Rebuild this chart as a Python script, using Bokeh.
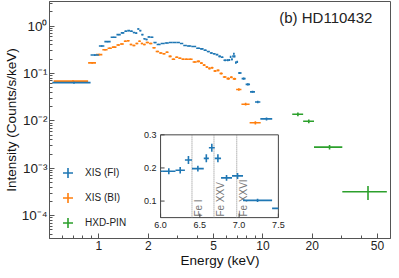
import math
import numpy as np
from bokeh.plotting import figure
from bokeh.models import FixedTicker, Range1d, LinearScale, Legend, LegendItem, Label
from bokeh.core.properties import value
from bokeh.embed import file_html
from bokeh.resources import INLINE

FONT = "Liberation Sans"
BLUE, ORANGE, GREEN = "#1f77b4", "#ff7f0e", "#2ca02c"
AX = "#555555"
LW = 1.6

# ---------------- data ----------------
# XIS (FI): contiguous bin edges (keV), intensity, 1-sigma error
fi_edges = [0.52, 0.89, 1.00, 1.08, 1.18, 1.28, 1.36, 1.43, 1.49, 1.55, 1.61, 1.665, 1.715,
            1.765, 1.815, 1.87, 1.925, 1.98, 2.06, 2.15, 2.25, 2.38, 2.52, 2.67, 2.82, 2.97,
            3.12, 3.27, 3.44, 3.66, 3.92, 4.14, 4.35, 4.55, 4.75, 4.95, 5.15, 5.35, 5.55, 5.75,
            6.02, 6.19, 6.31, 6.40, 6.55, 6.615, 6.69, 6.77, 6.91, 7.05, 7.42, 7.85, 8.35, 8.95,
            9.65, 11.4]
fi_rate = [0.064, 0.245, 0.38, 0.47, 0.58, 0.66, 0.72, 0.78, 0.80, 0.78,
           0.73, 0.71, 0.87, 0.80, 0.66, 0.54, 0.52, 0.59, 0.58, 0.45,
           0.41, 0.43, 0.44, 0.45, 0.45, 0.45, 0.43, 0.39, 0.38, 0.37,
           0.34, 0.33, 0.31, 0.29, 0.27, 0.26, 0.25, 0.23, 0.22, 0.19,
           0.19, 0.193, 0.224, 0.198, 0.229, 0.261, 0.229, 0.17, 0.176, 0.102,
           0.078, 0.059, 0.041, 0.025, 0.011]
fi_err = [0.003, 0.01, 0.014, 0.016, 0.018, 0.02, 0.022, 0.024, 0.024, 0.024,
          0.022, 0.022, 0.026, 0.024, 0.02, 0.018, 0.018, 0.018, 0.018, 0.014,
          0.012, 0.012, 0.012, 0.012, 0.012, 0.012, 0.012, 0.011, 0.01, 0.01,
          0.01, 0.01, 0.009, 0.009, 0.009, 0.009, 0.009, 0.009, 0.009, 0.008,
          0.009, 0.01, 0.012, 0.009, 0.012, 0.012, 0.012, 0.009, 0.009, 0.005,
          0.004, 0.003, 0.002, 0.0015, 0.0008]

# XIS (BI)
bi_edges = [0.53, 0.86, 0.96, 1.05, 1.13, 1.20, 1.28, 1.345, 1.42, 1.48, 1.54, 1.60, 1.67,
            1.74, 1.80, 1.86, 1.93, 2.02, 2.12, 2.22, 2.33, 2.44, 2.55, 2.66, 2.78, 2.92,
            3.05, 3.19, 3.33, 3.50, 3.73, 3.95, 4.14, 4.30, 4.47, 4.64, 4.81, 5.00, 5.22,
            5.44, 5.70, 6.00, 6.30, 6.55, 6.87, 7.40, 8.30, 9.70]
bi_rate = [0.069, 0.167, 0.25, 0.316, 0.34, 0.36, 0.40, 0.42, 0.48, 0.49,
           0.41, 0.39, 0.43, 0.48, 0.43, 0.41, 0.45, 0.43, 0.35, 0.29,
           0.27, 0.26, 0.28, 0.23, 0.20, 0.22, 0.21, 0.20, 0.20, 0.20,
           0.175, 0.18, 0.165, 0.15, 0.137, 0.128, 0.132, 0.113, 0.116, 0.10,
           0.084, 0.078, 0.083, 0.077, 0.046, 0.0225, 0.0091]
bi_err = [0.003, 0.007, 0.01, 0.012, 0.012, 0.013, 0.014, 0.014, 0.016, 0.016,
          0.014, 0.014, 0.015, 0.016, 0.015, 0.014, 0.015, 0.014, 0.012, 0.01,
          0.01, 0.01, 0.01, 0.009, 0.008, 0.009, 0.008, 0.008, 0.008, 0.008,
          0.007, 0.007, 0.007, 0.006, 0.006, 0.006, 0.006, 0.005, 0.005, 0.005,
          0.004, 0.004, 0.004, 0.004, 0.003, 0.0015, 0.0007]

# HXD-PIN
pin_lo = [15.1, 17.6, 20.5, 30.5]
pin_hi = [17.6, 20.5, 30.5, 57.0]
pin_rate = [0.0138, 0.0098, 0.0028, 0.00032]
pin_err = [0.0013, 0.0009, 0.0003, 0.000105]

series_labels = ["XIS (FI)", "XIS (BI)", "HXD-PIN"]

x_major = [1, 2, 5, 10, 20, 50]
x_major_labels = ["1", "2", "5", "10", "20", "50"]
x_minor = [0.6, 0.7, 0.8, 0.9, 3, 4, 6, 7, 8, 9, 30, 40]
y_major = [1e-4, 1e-3, 1e-2, 1e-1, 1.0]
y_major_labels = ["10\u207b\u2074", "10\u207b\u00b3", "10\u207b\u00b2", "10\u207b\u00b9", "10\u2070"]

# inset
inset_xlim = (6.0, 7.5)
inset_ylim = (0.05, 0.3)
inset_xticks = [6.0, 6.5, 7.0, 7.5]
inset_xtick_labels = ["6.0", "6.5", "7.0", "7.5"]
inset_yticks = [0.1, 0.2, 0.3]
inset_ytick_labels = ["0.1", "0.2", "0.3"]
fe_energy = [6.4, 6.68, 6.97]
fe_labels = ["Fe I", "Fe XXV", "Fe XXVI"]

# ---------------- figure ----------------
p = figure(width=391, height=270, x_axis_type="log", y_axis_type="log",
           x_range=(0.5, 60), y_range=(3.3e-5, 3.3),
           output_backend="svg", toolbar_location=None,
           min_border_left=44, min_border_right=1, min_border_top=1, min_border_bottom=31)
p.grid.visible = False
p.outline_line_color = AX
p.background_fill_color = "white"
p.border_fill_color = "white"

for ax in (p.xaxis[0], p.yaxis[0]):
    ax.axis_line_color = AX
    ax.major_tick_line_color = AX
    ax.minor_tick_line_color = AX
    ax.major_tick_in = 5
    ax.major_tick_out = 0
    ax.minor_tick_in = 3
    ax.minor_tick_out = 0
    ax.major_label_text_font = FONT
    ax.major_label_text_color = "#222222"
    ax.axis_label_text_font = FONT
    ax.axis_label_text_font_style = "normal"
    ax.axis_label_text_color = "#111111"

p.xaxis.ticker = FixedTicker(ticks=x_major, minor_ticks=x_minor)
p.xaxis.major_label_overrides = {float(t): s for t, s in zip(x_major, x_major_labels)}
p.xaxis.major_label_text_font_size = "12px"
p.xaxis.major_label_standoff = 2
p.xaxis.axis_label = "Energy (keV)"
p.xaxis.axis_label_text_font_size = "13.5px"
p.xaxis.axis_label_standoff = 0

y_minor = [k * 10.0 ** d for d in range(-5, 1) for k in range(2, 10)]
p.yaxis.ticker = FixedTicker(ticks=y_major, minor_ticks=y_minor)
p.yaxis.major_label_overrides = {float(t): s for t, s in zip(y_major, y_major_labels)}
p.yaxis.major_label_text_font_size = "13.5px"
p.yaxis.major_label_standoff = 2
p.yaxis.axis_label = "Intensity (Counts/s/keV)"
p.yaxis.axis_label_text_font_size = "13.5px"
p.yaxis.axis_label_standoff = 0


def draw_bins(lo, hi, y, err, color, **kw):
    lo = np.asarray(lo, float)
    hi = np.asarray(hi, float)
    y = np.asarray(y, float)
    err = np.asarray(err, float)
    c = (lo + hi) / 2
    p.segment(x0=lo, y0=y, x1=hi, y1=y, line_color=color, line_width=LW, **kw)
    p.segment(x0=c, y0=y - err, x1=c, y1=y + err, line_color=color, line_width=LW, **kw)


fe = np.asarray(fi_edges)
be = np.asarray(bi_edges)
draw_bins(be[:-1], be[1:], bi_rate, bi_err, ORANGE)
draw_bins(fe[:-1], fe[1:], fi_rate, fi_err, BLUE)
draw_bins(pin_lo, pin_hi, pin_rate, pin_err, GREEN)

# zero-size markers used only for the legend glyphs (crosses)
leg_r = []
for (lo, hi, y), col in zip([(fe[:-1], fe[1:], fi_rate), (be[:-1], be[1:], bi_rate),
                             (np.asarray(pin_lo), np.asarray(pin_hi), pin_rate)],
                            [BLUE, ORANGE, GREEN]):
    leg_r.append(p.scatter(x=(lo + hi) / 2, y=y, marker="cross", size=0,
                           line_color=col, line_width=LW))

legend = Legend(items=[LegendItem(label=l, renderers=[r]) for l, r in zip(series_labels, leg_r)],
                location=(6, 3), orientation="vertical",
                glyph_width=25, glyph_height=25, label_height=13, spacing=-12,
                padding=0, margin=0, label_standoff=5,
                border_line_color=None, background_fill_alpha=0,
                label_text_font=FONT, label_text_font_size="10px", label_text_color="#222222")
p.add_layout(legend)

p.add_layout(Label(x=46.5, y=1.55, text="(b) HD110432", text_align="right",
                   text_baseline="middle", text_font=FONT, text_font_size="15px",
                   text_color="#222222"))

# ---------------- inset (own linear ranges inside the same frame) ----------------
fx0, fx1, fy0, fy1 = 0.3257, 0.6712, 0.0881, 0.4374   # inset box as fractions of the frame
sx = (inset_xlim[1] - inset_xlim[0]) / (fx1 - fx0)
sy = (inset_ylim[1] - inset_ylim[0]) / (fy1 - fy0)
x_start = inset_xlim[0] - fx0 * sx
y_start = inset_ylim[0] - fy0 * sy
p.extra_x_ranges = {"ix": Range1d(x_start, x_start + sx)}
p.extra_y_ranges = {"iy": Range1d(y_start, y_start + sy)}
p.extra_x_scales = {"ix": LinearScale()}
p.extra_y_scales = {"iy": LinearScale()}
IN = dict(x_range_name="ix", y_range_name="iy")

p.quad(left=[inset_xlim[0]], right=[inset_xlim[1]], bottom=[inset_ylim[0]], top=[inset_ylim[1]],
       fill_color="white", line_color="#444444", line_width=1, **IN)

p.segment(x0=fe_energy, x1=fe_energy, y0=inset_ylim[0], y1=inset_ylim[1],
          line_color="#888888", line_width=1, line_dash="1 1", **IN)
p.text(x=fe_energy, y=inset_ylim[0], text=fe_labels, angle=math.pi / 2,
       text_align="left", text_baseline="top", x_offset=1, y_offset=-1,
       text_font=value(FONT), text_font_size=value("10px"), text_color="#777777", **IN)

lo, hi = fe[:-1], fe[1:]
sel = (hi > inset_xlim[0]) & (lo < inset_xlim[1])
ilo = np.clip(lo[sel], *inset_xlim)
ihi = np.clip(hi[sel], *inset_xlim)
iy = np.asarray(fi_rate)[sel]
ierr = np.asarray(fi_err)[sel]
ic = ((lo + hi) / 2)[sel]
p.segment(x0=ilo, y0=iy, x1=ihi, y1=iy, line_color=BLUE, line_width=LW, **IN)
vin = (ic >= inset_xlim[0]) & (ic <= inset_xlim[1])
p.segment(x0=ic[vin], y0=(iy - ierr)[vin], x1=ic[vin], y1=(iy + ierr)[vin],
          line_color=BLUE, line_width=LW, **IN)

p.ray(x=inset_xticks, y=inset_ylim[0], length=4, length_units="screen", angle=math.pi / 2,
      line_color="#444444", line_width=1, **IN)
p.ray(x=inset_xlim[0], y=inset_yticks, length=4, length_units="screen", angle=0,
      line_color="#444444", line_width=1, **IN)
p.text(x=inset_xticks, y=inset_ylim[0], text=inset_xtick_labels, y_offset=4,
       text_align="center", text_baseline="top", text_font=value(FONT),
       text_font_size=value("9px"), text_color="#222222", **IN)
p.text(x=inset_xlim[0], y=inset_yticks, text=inset_ytick_labels, x_offset=-4,
       text_align="right", text_baseline="middle", text_font=value(FONT),
       text_font_size=value("9px"), text_color="#222222", **IN)

open("out.html", "w").write(file_html(p, INLINE))
